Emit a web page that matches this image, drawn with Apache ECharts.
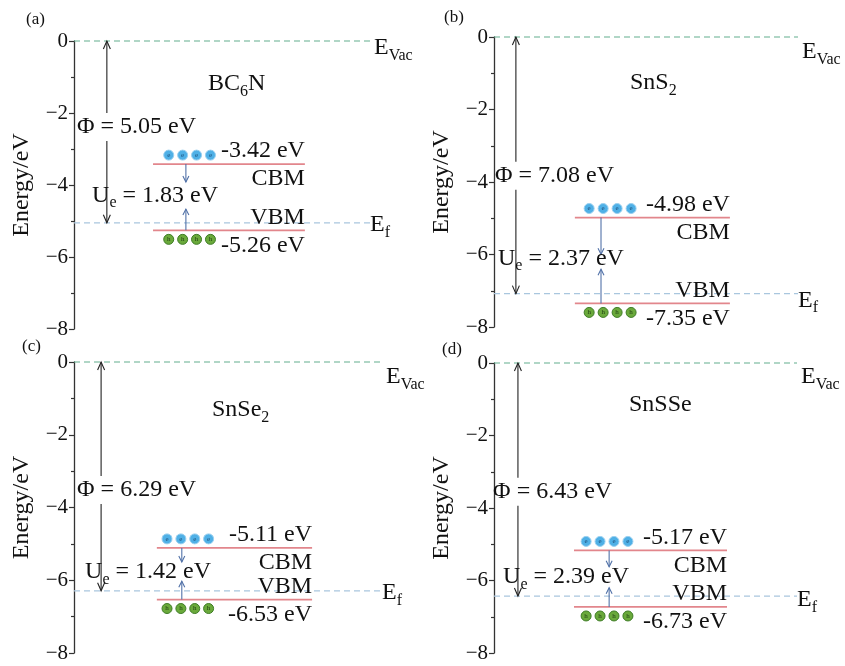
<!DOCTYPE html>
<html><head><meta charset="utf-8">
<script src="https://cdn.jsdelivr.net/npm/echarts@6/dist/echarts.min.js"></script>
<style>html,body{margin:0;padding:0;background:#fff}#c{width:845px;height:666px}</style>
</head><body><div id="c"></div>
<script>
// ---------------- data ----------------
const panelLabels = ['(a)', '(b)', '(c)', '(d)'];
const materials = ['BC{s|6}N', 'SnS{s|2}', 'SnSe{s|2}', 'SnSSe'];
const vacuumLevel = [0, 0, 0, 0];
const workFunction = [5.05, 7.08, 6.29, 6.43];
const cbmLevel = [-3.42, -4.98, -5.11, -5.17];
const vbmLevel = [-5.26, -7.35, -6.53, -6.73];
const ueValue = [1.83, 2.37, 1.42, 2.39];
const yRange = [-8, 0];
const yInterval = 2;
const carriersPerBand = 4;

// ---------------- layout / style ----------------
const FONT = 'Liberation Serif';
const C = {
  text: '#111', axis: '#333', vac: '#62ad8e', vacText: '#4f9f7c',
  ef: '#a9c6de', efText: '#a6c3de', band: '#e2868c', ue: '#5272a8', phi: '#222',
  eFill: '#4fb0e6', eStroke: '#9ad0f0', hFill: '#6aa93b', hStroke: '#3e7d25'
};
const grids = [
  { left: 74, top: 41, width: 296, height: 288 },
  { left: 494, top: 37, width: 304, height: 290 },
  { left: 74, top: 362, width: 308, height: 291 },
  { left: 494, top: 363, width: 303, height: 290 }
];
const L = {
  phiX: [1.11, 0.72, 0.88, 0.79],
  phiLabelX: [0.1, 0.03, 0.1, -0.03],
  phiLabelY: [-2.39, -3.83, -3.52, -3.55],
  levelX: [[2.67, 7.8], [2.66, 7.76], [2.69, 7.73], [2.64, 7.69]],
  ueX: [3.78, 3.52, 3.5, 3.8],
  ueLabelX: [0.61, 0.13, 0.36, 0.3],
  ueTipTop: [0.42, 0.17, 0.32, 0.33],
  ueTipBottom: [0.33, 0.24, 0.21, 0.25],
  circleX0: [3.2, 3.13, 3.02, 3.04],
  circleStep: [0.47, 0.46, 0.45, 0.46],
  vacLabelDy: [7, 15, 15, 14],
  efLabelDy: [2, 7, 2, 4],
  titlePos: [[26, 11], [444, 9], [22, 338], [442, 341]],
  materialPos: [[208, 69], [630, 68], [212, 395], [629, 390]]
};
const richSub = {
  m: { fontFamily: FONT, fontSize: 24, lineHeight: 30 },
  s: { fontFamily: FONT, fontSize: 16, lineHeight: 16, padding: [15, 0, 0, 0] }
};
function richWith(color) {
  return {
    m: Object.assign({}, richSub.m, { color: color }),
    s: Object.assign({}, richSub.s, { color: color })
  };
}

function arrowHead(tip, dir, len, half, color, lw) {
  // dir: -1 pointing up, +1 pointing down
  return {
    type: 'polyline',
    shape: { points: [[tip[0] - half, tip[1] - dir * len], [tip[0], tip[1]], [tip[0] + half, tip[1] - dir * len]] },
    style: { stroke: color, fill: null, lineWidth: lw }
  };
}
function seg(a, b, color, lw, dash) {
  return {
    type: 'line',
    shape: { x1: a[0], y1: a[1], x2: b[0], y2: b[1] },
    style: { stroke: color, lineWidth: lw, lineDash: dash || null }
  };
}
function txt(x, y, text, opts) {
  return {
    type: 'text', x: x, y: y,
    style: Object.assign({
      text: text, fill: C.text, fontFamily: FONT, fontSize: 24,
      align: 'left', verticalAlign: 'middle'
    }, opts || {})
  };
}

function renderPanel(i) {
  return function (params, api) {
    const P = (x, y) => api.coord([x, y]);
    const ch = [];
    const vac = vacuumLevel[i];
    const ef = vac - workFunction[i];
    const cbm = cbmLevel[i], vbm = vbmLevel[i];
    // vacuum level
    const v0 = P(0, vac), v1 = P(10, vac);
    ch.push(seg(v0, v1, C.vac, 1.2, [6, 4]));
    ch.push(txt(v1[0] + 4, v1[1] + L.vacLabelDy[i], '{m|E}{s|Vac}', { rich: richWith(C.vacText) }));
    // fermi level
    const f0 = P(0, ef), f1 = P(10, ef);
    ch.push(seg(f0, f1, C.ef, 1.2, [6, 4]));
    ch.push(txt(f1[0] + 0, f1[1] + L.efLabelDy[i], '{m|E}{s|f}', { rich: richWith(C.efText) }));
    // work function arrow (split around label)
    const pTop = P(L.phiX[i], vac), pBot = P(L.phiX[i], ef);
    const pLab = P(L.phiLabelX[i], L.phiLabelY[i]);
    ch.push(seg(pTop, [pTop[0], pLab[1] - 14], C.phi, 1.1));
    ch.push(seg([pTop[0], pLab[1] + 14], pBot, C.phi, 1.1));
    ch.push(arrowHead(pTop, -1, 8, 3.5, C.phi, 1.1));
    ch.push(arrowHead(pBot, 1, 8, 3.5, C.phi, 1.1));
    ch.push(txt(pLab[0], pLab[1], '\u03A6 = ' + workFunction[i].toFixed(2) + ' eV'));
    // band edges
    const c0 = P(L.levelX[i][0], cbm), c1 = P(L.levelX[i][1], cbm);
    const b0 = P(L.levelX[i][0], vbm), b1 = P(L.levelX[i][1], vbm);
    ch.push(seg(c0, c1, C.band, 1.8));
    ch.push(seg(b0, b1, C.band, 1.8));
    ch.push(txt(c1[0], c1[1] - 13, cbm.toFixed(2) + ' eV', { align: 'right' }));
    ch.push(txt(c1[0], c1[1] + 15, 'CBM', { align: 'right' }));
    ch.push(txt(b1[0], b1[1] - 13, 'VBM', { align: 'right' }));
    ch.push(txt(b1[0], b1[1] + 15, vbm.toFixed(2) + ' eV', { align: 'right' }));
    // carriers
    for (let k = 0; k < carriersPerBand; k++) {
      const ce = P(L.circleX0[i] + k * L.circleStep[i], cbm);
      const ch_ = P(L.circleX0[i] + k * L.circleStep[i], vbm);
      ch.push({ type: 'circle', shape: { cx: ce[0], cy: ce[1] - 9, r: 5 }, style: { fill: C.eFill, stroke: C.eStroke, lineWidth: 1 } });
      ch.push(txt(ce[0], ce[1] - 9, 'e', { fontSize: 7, align: 'center', fill: '#1d4f7a' }));
      ch.push({ type: 'circle', shape: { cx: ch_[0], cy: ch_[1] + 9, r: 5 }, style: { fill: C.hFill, stroke: C.hStroke, lineWidth: 1 } });
      ch.push(txt(ch_[0], ch_[1] + 9, 'h', { fontSize: 7, align: 'center', fill: '#1e3d12' }));
    }
    // Ue arrows
    const mid = (cbm + vbm) / 2;
    const uTop = P(L.ueX[i], cbm), uTipT = P(L.ueX[i], mid + L.ueTipTop[i]);
    const uBot = P(L.ueX[i], vbm), uTipB = P(L.ueX[i], mid - L.ueTipBottom[i]);
    ch.push(seg(uTop, uTipT, C.ue, 1.1));
    ch.push(arrowHead(uTipT, 1, 6, 3, C.ue, 1.1));
    ch.push(seg(uBot, uTipB, C.ue, 1.1));
    ch.push(arrowHead(uTipB, -1, 6, 3, C.ue, 1.1));
    const uLab = P(L.ueLabelX[i], mid + 0.05);
    ch.push(txt(uLab[0], uLab[1], '{m|U}{s|e}{m| = ' + ueValue[i].toFixed(2) + ' eV}', { rich: richWith(C.text) }));
    return { type: 'group', children: ch };
  };
}

const option = {
  backgroundColor: '#ffffff',
  animation: false,
  title: [].concat(
    panelLabels.map((t, i) => ({
      text: t, left: L.titlePos[i][0], top: L.titlePos[i][1], padding: 0,
      textStyle: { fontFamily: FONT, fontSize: 17, fontWeight: 'normal', color: C.text }
    })),
    materials.map((t, i) => ({
      text: t, left: L.materialPos[i][0], top: L.materialPos[i][1], padding: 0,
      textStyle: { fontFamily: FONT, fontSize: 24, fontWeight: 'normal', color: C.text, lineHeight: 30, rich: richWith(C.text) }
    }))
  ),
  grid: grids,
  xAxis: grids.map((g, i) => ({ gridIndex: i, type: 'value', min: 0, max: 10, show: false })),
  yAxis: grids.map((g, i) => ({
    gridIndex: i, type: 'value', min: yRange[0], max: yRange[1], interval: yInterval,
    name: 'Energy/eV', nameLocation: 'middle', nameGap: 40,
    nameTextStyle: { fontFamily: FONT, fontSize: 24, color: C.text },
    axisLine: { show: true, lineStyle: { color: C.axis, width: 1.3 } },
    axisTick: { show: true, length: 5, lineStyle: { color: C.axis, width: 1.2 } },
    minorTick: { show: true, splitNumber: 2, length: 3, lineStyle: { color: C.axis, width: 1.2 } },
    splitLine: { show: false },
    axisLabel: {
      fontFamily: FONT, fontSize: 21, color: C.text, margin: 6,
      formatter: v => (v < 0 ? '\u2212' + Math.abs(v) : String(v))
    }
  })),
  series: grids.map((g, i) => ({
    type: 'custom', xAxisIndex: i, yAxisIndex: i, clip: false, silent: true,
    renderItem: renderPanel(i), data: [[0, 0]]
  }))
};
const chart = echarts.init(document.getElementById('c'), null, { renderer: 'canvas' });
chart.setOption(option);
</script></body></html>
